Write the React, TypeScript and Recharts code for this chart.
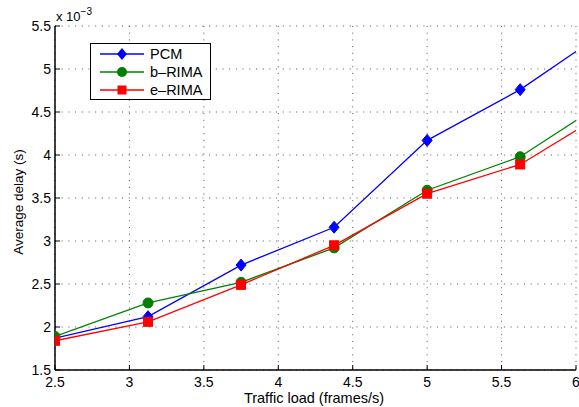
import React from 'react';
import { LineChart, Line, XAxis, YAxis, CartesianGrid } from 'recharts';

const xValues = [2.5, 3.125, 3.75, 4.375, 5, 5.625, 6.25];
const pcm = [1.87, 2.12, 2.72, 3.16, 4.17, 4.76, 5.5];
const bRima = [1.89, 2.28, 2.52, 2.92, 3.59, 3.98, 4.68];
const eRima = [1.84, 2.06, 2.49, 2.95, 3.55, 3.89, 4.55];
const xTicks = [2.5, 3, 3.5, 4, 4.5, 5, 5.5, 6];
const yTicks = [1.5, 2, 2.5, 3, 3.5, 4, 4.5, 5, 5.5];
const seriesNames = ['PCM', 'b\u2013RIMA', 'e\u2013RIMA'];

const data = xValues.map((x, i) => ({ x, pcm: pcm[i], b: bRima[i], e: eRima[i] }));

const W = 579;
const H = 407;
const font = '"Liberation Sans", Arial, Helvetica, sans-serif';
const BLUE = '#0000ff';
const GREEN = '#008000';
const RED = '#ff0000';

const BottomTick = (props: any) => {
  const { x, y, payload } = props;
  return (
    <g>
      <line x1={x} y1={y} x2={x} y2={y - 5} stroke="#000" strokeWidth={1} />
      <text x={x} y={y + 17} textAnchor="middle" fontSize={14} fontFamily={font} fill="#000">
        {String(payload.value)}
      </text>
    </g>
  );
};

const TopTick = (props: any) => {
  const { x, y } = props;
  return <line x1={x} y1={y} x2={x} y2={y + 5} stroke="#000" strokeWidth={1} />;
};

const LeftTick = (props: any) => {
  const { x, y, payload } = props;
  return (
    <g>
      <line x1={x} y1={y} x2={x + 5} y2={y} stroke="#000" strokeWidth={1} />
      <text x={x - 4} y={y + 5} textAnchor="end" fontSize={14} fontFamily={font} fill="#000">
        {String(payload.value)}
      </text>
    </g>
  );
};

const RightTick = (props: any) => {
  const { x, y } = props;
  return <line x1={x} y1={y} x2={x - 5} y2={y} stroke="#000" strokeWidth={1} />;
};

const Diamond = (props: any) => {
  const { cx, cy, index } = props;
  if (cx == null || cy == null) return <g key={`d${index}`} />;
  return (
    <path
      key={`d${index}`}
      d={`M${cx},${cy - 6} L${cx + 5},${cy} L${cx},${cy + 6} L${cx - 5},${cy} Z`}
      fill={BLUE}
      stroke={BLUE}
    />
  );
};

const Circle = (props: any) => {
  const { cx, cy, index } = props;
  if (cx == null || cy == null) return <g key={`c${index}`} />;
  return <circle key={`c${index}`} cx={cx} cy={cy} r={5} fill={GREEN} stroke={GREEN} />;
};

const Square = (props: any) => {
  const { cx, cy, index } = props;
  if (cx == null || cy == null) return <g key={`s${index}`} />;
  return <rect key={`s${index}`} x={cx - 4.5} y={cy - 4.5} width={9} height={9} fill={RED} stroke={RED} />;
};

const LegendRow = ({ color, marker, label }: { color: string; marker: string; label: string }) => (
  <div style={{ display: 'flex', alignItems: 'center', height: 18 }}>
    <svg width={50} height={14} style={{ display: 'block' }}>
      <line x1={1} y1={7} x2={45} y2={7} stroke={color} strokeWidth={1.3} />
      {marker === 'diamond' && <path d="M23,1 L28,7 L23,13 L18,7 Z" fill={color} />}
      {marker === 'circle' && <circle cx={23} cy={7} r={5} fill={color} />}
      {marker === 'square' && <rect x={18.5} y={2.5} width={9} height={9} fill={color} />}
    </svg>
    <span style={{ fontFamily: font, fontSize: 14.5, color: '#000', marginLeft: 1 }}>{label}</span>
  </div>
);

export default function App() {
  return (
    <div style={{ position: 'absolute', left: 0, top: 0, width: W, height: H, background: '#fff' }}>
      <LineChart width={W} height={H} data={data} margin={{ top: 26, right: 3, bottom: 0, left: 0 }}>
        <CartesianGrid stroke="#555" strokeDasharray="1 5.7" strokeWidth={1} />
        <XAxis
          dataKey="x"
          type="number"
          domain={[2.5, 6]}
          allowDataOverflow
          ticks={xTicks}
          tickSize={0}
          tickMargin={0}
          tickLine={false}
          tick={<BottomTick />}
          axisLine={{ stroke: '#000', strokeWidth: 1.5 }}
          height={37}
          interval={0}
        />
        <XAxis
          xAxisId="top"
          orientation="top"
          dataKey="x"
          type="number"
          domain={[2.5, 6]}
          allowDataOverflow
          ticks={xTicks}
          tickSize={0}
          tickMargin={0}
          tickLine={false}
          tick={<TopTick />}
          axisLine={{ stroke: '#000', strokeWidth: 1.5 }}
          height={0}
          interval={0}
        />
        <YAxis
          type="number"
          domain={[1.5, 5.5]}
          allowDataOverflow
          ticks={yTicks}
          tickSize={0}
          tickMargin={0}
          tickLine={false}
          tick={<LeftTick />}
          axisLine={{ stroke: '#000', strokeWidth: 1.5 }}
          width={55}
          interval={0}
        />
        <YAxis
          yAxisId="right"
          orientation="right"
          type="number"
          domain={[1.5, 5.5]}
          allowDataOverflow
          ticks={yTicks}
          tickSize={0}
          tickMargin={0}
          tickLine={false}
          tick={<RightTick />}
          axisLine={{ stroke: '#000', strokeWidth: 1.5 }}
          width={0}
          interval={0}
        />
        <Line dataKey="pcm" name={seriesNames[0]} stroke={BLUE} strokeWidth={1.3} dot={Diamond} isAnimationActive={false} />
        <Line dataKey="b" name={seriesNames[1]} stroke={GREEN} strokeWidth={1.3} dot={Circle} isAnimationActive={false} />
        <Line dataKey="e" name={seriesNames[2]} stroke={RED} strokeWidth={1.3} dot={Square} isAnimationActive={false} />
      </LineChart>

      <div style={{ position: 'absolute', left: 56, top: 7, fontFamily: font, fontSize: 13, color: '#000', whiteSpace: 'nowrap' }}>
        x 10<sup style={{ fontSize: 10, position: 'relative', top: -1 }}>{'\u22123'}</sup>
      </div>

      <div
        style={{
          position: 'absolute',
          left: 18,
          top: 202,
          transform: 'translate(-50%, -50%) rotate(-90deg)',
          fontFamily: font,
          fontSize: 13.5,
          color: '#000',
          whiteSpace: 'nowrap',
        }}
      >
        Average delay (s)
      </div>

      <div
        style={{
          position: 'absolute',
          left: 314,
          top: 398,
          transform: 'translate(-50%, -50%)',
          fontFamily: font,
          fontSize: 14.5,
          color: '#000',
          whiteSpace: 'nowrap',
        }}
      >
        Traffic load (frames/s)
      </div>

      <div
        style={{
          position: 'absolute',
          left: 90,
          top: 43,
          width: 121,
          height: 57,
          boxSizing: 'border-box',
          border: '1px solid #000',
          background: '#fff',
          paddingLeft: 8,
          paddingTop: 1,
        }}
      >
        <LegendRow color={BLUE} marker="diamond" label={seriesNames[0]} />
        <LegendRow color={GREEN} marker="circle" label={seriesNames[1]} />
        <LegendRow color={RED} marker="square" label={seriesNames[2]} />
      </div>
    </div>
  );
}
